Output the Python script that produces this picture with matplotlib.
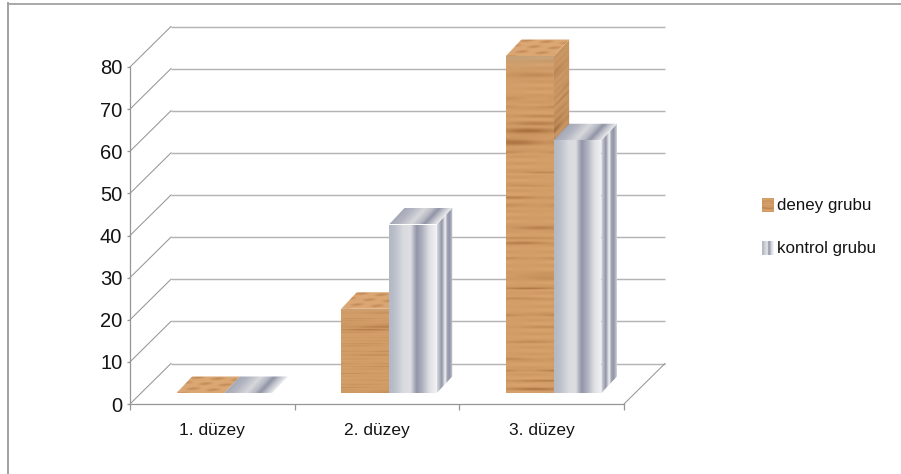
import numpy as np
import matplotlib
matplotlib.use("Agg")
import matplotlib.pyplot as plt
from matplotlib.colors import LinearSegmentedColormap, to_rgb
from matplotlib.path import Path
from matplotlib.transforms import Affine2D, IdentityTransform

# Chart values
categories = ["1. düzey", "2. düzey", "3. düzey"]
deney_grubu = [0, 20, 80]
kontrol_grubu = [0, 40, 60]
series_names = ["deney grubu", "kontrol grubu"]
y_ticks = [0, 10, 20, 30, 40, 50, 60, 70, 80]

# Oblique projection, in pixels at 100 dpi
WALL_SHIFT = (41, 40.5)
BAR_SHIFT = (12, 11)
BAR_DEPTH = (15.5, 16.5)
BAR_WIDTH = 0.29

GRID = "#b4b4b4"
AXIS = "#969696"
FRAME = "#a2a2a2"
TEXT = "#141414"

plt.rcParams["font.family"] = ["Liberation Sans", "DejaVu Sans"]

# Brushed metal colour stops across one bar
metal = LinearSegmentedColormap.from_list("metal", [
    (0.00, "#b4b8c4"), (0.12, "#bcc0ca"), (0.30, "#d9dbdf"), (0.45, "#dcdee2"),
    (0.58, "#9195a8"), (0.68, "#a9adba"), (0.85, "#dfe0e4"), (1.00, "#f2f2f4"),
])
metal_side = LinearSegmentedColormap.from_list("metal_side", [
    (0.00, "#d8dade"), (0.30, "#8f94a6"), (0.48, "#e4e5e9"),
    (0.55, "#eeeef0"), (0.62, "#a5a9b7"), (0.80, "#8f94a6"), (1.00, "#cfd1d8"),
])
metal_top = LinearSegmentedColormap.from_list("metal_top", [
    (0.00, "#a4a8b6"), (0.20, "#b4b7c2"), (0.45, "#d6d8dc"), (0.62, "#b9bbc5"),
    (0.74, "#8f94a6"), (0.88, "#c4c6ce"), (1.00, "#e8e9ec"),
])

# Dark grain lines of the wood: position from the top, strength, thickness
wood_grain = [
    (0.055, 0.14, 0.012), (0.125, 0.14, 0.006), (0.150, 0.20, 0.004),
    (0.178, 0.20, 0.004), (0.200, 0.26, 0.006), (0.222, 0.42, 0.008),
    (0.255, 0.36, 0.010), (0.285, 0.22, 0.004), (0.345, 0.20, 0.003),
    (0.385, 0.14, 0.003), (0.420, 0.24, 0.004), (0.445, 0.14, 0.006),
    (0.510, 0.30, 0.005), (0.540, 0.16, 0.003), (0.555, 0.34, 0.004),
    (0.600, 0.16, 0.003), (0.655, 0.14, 0.010), (0.690, 0.38, 0.003),
    (0.720, 0.16, 0.003), (0.770, 0.26, 0.004), (0.805, 0.14, 0.003),
    (0.850, 0.20, 0.003), (0.900, 0.20, 0.004), (0.935, 0.36, 0.003),
    (0.965, 0.28, 0.003), (0.990, 0.34, 0.004),
]


def wood_texture(rows=340, cols=48, phase=0.0, fade_top=True, shade=1.0):
    base = np.array(to_rgb("#d8a36d"))
    dark = np.array(to_rgb("#935a2a"))
    y = np.linspace(0, 1, rows)[:, None]
    x = np.linspace(0, 1, cols)[None, :]
    amount = np.zeros((rows, cols))
    for pos, strength, thick in wood_grain:
        # each grain line thins out along the board
        along = 0.65 + 0.35 * np.sin(4 * x + 40 * pos + phase)
        amount += strength * along * np.exp(-((y - pos) / thick) ** 2)
    ripple = 0.07 * np.sin(310 * y + phase) * (0.6 + 0.4 * np.sin(5 * x + 9 * y + phase))
    amount = np.clip(amount * 1.5 + ripple + 0.07, -0.15, 1)
    tex = base + amount[..., None] * (dark - base)
    if fade_top:
        # cool tint just under the top edge
        tint = np.exp(-y * rows / 6.0)[..., None]
        tex = tex * (1 - 0.35 * tint) + np.array(to_rgb("#a9a596")) * 0.35 * tint
    return np.clip(tex * shade, 0, 1)


def top_wood_texture(rows=24, cols=48):
    tex = np.ones((rows, cols, 3)) * np.array(to_rgb("#dba773"))
    dark = np.array(to_rgb("#b07340"))
    y = np.linspace(0, 1, rows)[:, None]
    x = np.linspace(0, 1, cols)[None, :]
    amt = 0.55 * np.clip(np.sin(13 * y + 5 * x) * np.sin(8 * x - 6 * y + 1), 0, 1)
    return tex + amt[..., None] * (dark - tex)


def strip(cmap, cols=64):
    return cmap(np.linspace(0, 1, cols))[None, :, :3]


fig = plt.figure(figsize=(9.01, 4.74), dpi=100, facecolor="white")
W, H = 901, 474
ax = fig.add_axes([130 / W, (H - 404) / H, 494 / W, 337 / H])
ax.set_xlim(0, 3)
ax.set_ylim(0, 80)
ax.patch.set_visible(False)
fig.canvas.draw()

to_px = ax.transData.transform
pixels = IdentityTransform()


def face(image, origin, u, v, zorder):
    """Paint an image on the parallelogram origin, origin+u, origin+v."""
    origin, u, v = map(np.asarray, (origin, u, v))
    mat = np.array([[u[0], v[0], origin[0]], [u[1], v[1], origin[1]], [0, 0, 1]])
    im = ax.imshow(image, extent=(0, 1, 0, 1), origin="upper", aspect="auto",
                   interpolation="bilinear", transform=Affine2D(mat), zorder=zorder)
    im.set_clip_box(fig.bbox)
    outline = Path([origin, origin + u, origin + u + v, origin + v, origin], closed=True)
    im.set_clip_path(outline, pixels)


def draw_bar(x0, value, width, kind, phase, zorder):
    x0_px, base_px = to_px((x0, 0)) + np.array(BAR_SHIFT)
    x1_px, top_px = to_px((x0 + width, value)) + np.array(BAR_SHIFT)
    w, h = x1_px - x0_px, top_px - base_px
    top_img = top_wood_texture() if kind == "wood" else strip(metal_top)
    if h > 0:
        if kind == "wood":
            front = wood_texture(phase=phase)
            side = wood_texture(cols=16, phase=phase + 2.0, fade_top=False, shade=0.95)
        else:
            front, side = strip(metal), strip(metal_side)
        face(side, (x1_px, base_px), BAR_DEPTH, (0, h), zorder)
        face(front, (x0_px, base_px), (w, 0), (0, h), zorder + 0.2)
    face(top_img, (x0_px, top_px), (w, 0), BAR_DEPTH, zorder + 0.1)


# Back wall lines and their slanted continuation on the side wall
wall = ax.transData + Affine2D().translate(*WALL_SHIFT)
ax.hlines(y_ticks, 0, 3, colors=GRID, lw=1.05, transform=wall, clip_on=False, zorder=1)
for v in y_ticks:
    p = to_px((0, v))
    ax.plot([p[0], p[0] + WALL_SHIFT[0]], [p[1], p[1] + WALL_SHIFT[1]], color=AXIS,
            lw=0.75, transform=pixels, clip_on=False, zorder=1)
corner = to_px((3, 0))
ax.plot([corner[0], corner[0] + WALL_SHIFT[0]], [corner[1], corner[1] + WALL_SHIFT[1]],
        color=AXIS, lw=0.75, transform=pixels, clip_on=False, zorder=1)

# Bars, one pair per category
for i, (a, b) in enumerate(zip(deney_grubu, kontrol_grubu)):
    centre = i + 0.5
    draw_bar(centre - BAR_WIDTH, a, BAR_WIDTH, "wood", i * 1.7, 3 + i)
    draw_bar(centre, b, BAR_WIDTH, "metal", 0, 3.5 + i)

# Axes
for name in ("top", "right"):
    ax.spines[name].set_visible(False)
for name in ("left", "bottom"):
    ax.spines[name].set_color(AXIS)
    ax.spines[name].set_linewidth(0.9)
ax.set_xlim(0, 3)
ax.set_ylim(0, 80)
ax.set_yticks(y_ticks)
ax.set_yticklabels([str(v) for v in y_ticks], fontsize=14.5, color=TEXT)
ax.set_xticks([0, 1, 2, 3])
ax.set_xticklabels([])
ax.set_xticks([0.5, 1.5, 2.5], labels=categories, minor=True, fontsize=12.5, color=TEXT)
ax.tick_params(axis="y", length=2.5, width=0.9, color=AXIS, pad=3)
ax.tick_params(axis="x", which="major", length=4.5, width=0.9, color=AXIS)
ax.tick_params(axis="x", which="minor", length=0, pad=13.5)

# Legend, with swatches carrying the bar textures
legend_rows = [(205.5, wood_texture(rows=14, cols=12, fade_top=False)),
               (248.5, strip(metal, 12))]
for (cy, swatch), label in zip(legend_rows, series_names):
    ax.imshow(swatch, extent=(762, 774, H - cy - 7, H - cy + 7), origin="upper",
              aspect="auto", transform=pixels, clip_on=False, zorder=5)
    ax.text(777, H - cy, label, transform=pixels, fontsize=12.2, color=TEXT,
            va="center", ha="left", clip_on=False)
ax.set_xlim(0, 3)
ax.set_ylim(0, 80)

# Picture frame on the top and left edges
fig.add_artist(plt.Line2D([7.5 / W, 1], [(H - 3.5) / H] * 2, color=FRAME, lw=1.3))
fig.add_artist(plt.Line2D([7.5 / W] * 2, [0, (H - 3) / H], color=FRAME, lw=1.4))

fig.savefig("out.png", dpi=100, facecolor="white")
